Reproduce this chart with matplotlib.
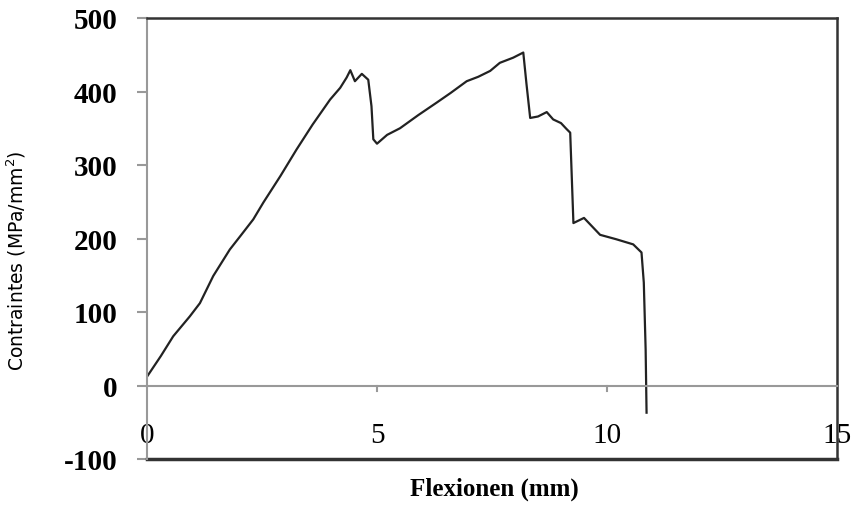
import matplotlib
matplotlib.use("Agg")
import matplotlib.pyplot as plt

plt.rcParams["axes.unicode_minus"] = False

# flexion (mm) vs contrainte
flexion = [0.0, 0.3, 0.57, 0.93, 1.15, 1.44, 1.8, 2.05, 2.31, 2.53, 2.9, 3.25,
           3.6, 3.98, 4.2, 4.34, 4.42, 4.52, 4.67, 4.81, 4.88, 4.92, 5.0, 5.22,
           5.5, 5.9, 6.3, 6.6, 6.95, 7.2, 7.46, 7.67, 7.96, 8.18, 8.25, 8.33,
           8.5, 8.69, 8.83, 9.0, 9.12, 9.2, 9.27, 9.5, 9.85, 10.2, 10.57, 10.75,
           10.8, 10.84, 10.86]
contrainte = [12, 40, 67, 94, 112, 149, 185, 205, 226, 249, 285, 321,
              355, 389, 405, 419, 429, 414, 424, 416, 380, 335, 329, 341,
              350, 368, 385, 398, 414, 420, 428, 439, 446, 453, 410, 364,
              366, 372, 362, 357, 349, 344, 221, 228, 205, 199, 192, 181,
              140, 49, -37]

x_ticks = [0, 5, 10, 15]
y_ticks = [-100, 0, 100, 200, 300, 400, 500]

fig = plt.figure(figsize=(8.55, 5.06), dpi=100)
ax = fig.add_axes([147/855, 46/506, 690/855, 441/506])

ax.plot(flexion, contrainte, color="#222222", lw=1.6)

ax.set_xlim(0, 15)
ax.set_ylim(-100, 500)

# x axis sits at y=0, labels pushed down
ax.spines["bottom"].set_position(("data", 0))
ax.spines["bottom"].set_color("#999999")
ax.spines["bottom"].set_linewidth(1.5)
ax.spines["left"].set_color("#999999")
ax.spines["left"].set_linewidth(1.5)
ax.spines["top"].set_color("#333333")
ax.spines["top"].set_linewidth(1.8)
ax.spines["right"].set_color("#333333")
ax.spines["right"].set_linewidth(1.8)
ax.axhline(-100, color="#333333", lw=2.5, clip_on=False)

ax.set_xticks(x_ticks)
ax.set_yticks(y_ticks)
ax.tick_params(axis="x", direction="in", length=0, pad=26, colors="#999999",
               labelcolor="black", labelsize=21)
ax.tick_params(axis="y", direction="out", length=7, width=1.5, pad=14,
               colors="#999999", labelcolor="black", labelsize=21)
for lab in ax.get_xticklabels():
    lab.set_family("Liberation Serif")
for lab in ax.get_yticklabels():
    lab.set_family("Liberation Serif")
    lab.set_fontweight("bold")

# small tick marks below the zero line
for t in x_ticks[1:-1]:
    ax.plot([t, t], [0, -8], color="#999999", lw=1.5, clip_on=False)

ax.set_xlabel("Flexionen (mm)", family="Liberation Serif", fontweight="bold",
              fontsize=18)
ax.xaxis.set_label_coords(0.503, -0.04)
ax.set_ylabel("Contraintes (MPa/mm$^2$)", family="DejaVu Sans", fontsize=13.5)
ax.yaxis.set_label_coords(-0.172, 0.453)

fig.savefig("out.png", dpi=100)
